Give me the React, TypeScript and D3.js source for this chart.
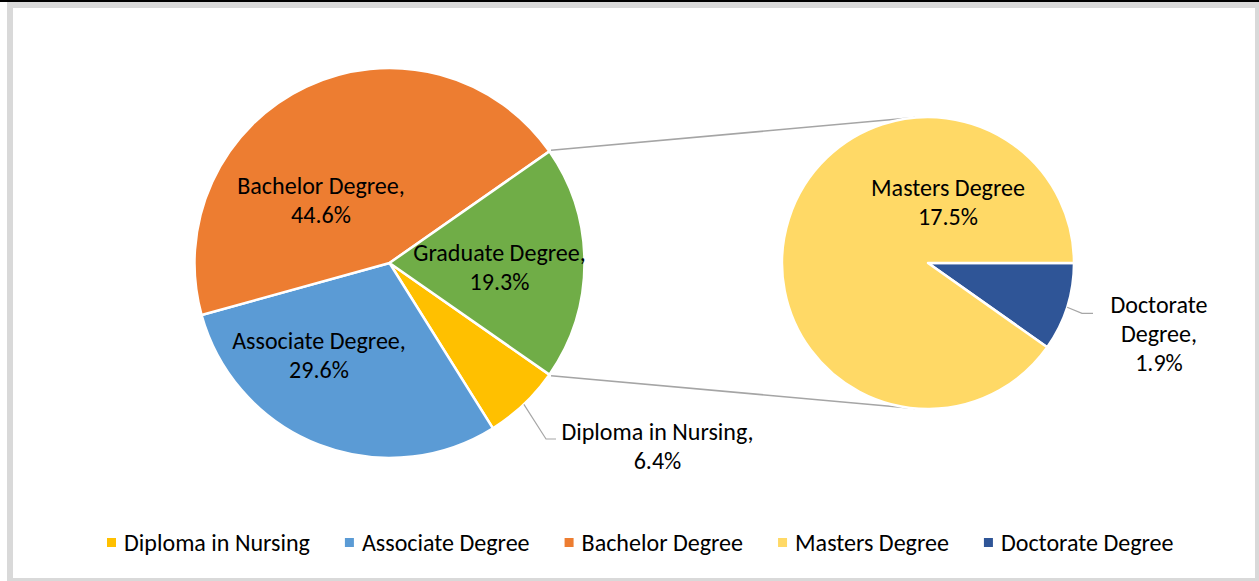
import React, { useEffect, useRef } from "react";
import * as d3 from "d3";

// ---- data ----
const categories = ["Diploma in Nursing", "Associate Degree", "Bachelor Degree", "Masters Degree", "Doctorate Degree"];
const values = [6.4, 29.6, 44.6, 17.5, 1.9];
const colors = ["#FFC000", "#5B9BD5", "#ED7D31", "#FFD966", "#2F5597"];
const secondaryCount = 2; // last N categories go to the secondary pie
const otherName = "Graduate Degree";
const otherShown = 19.3; // percentage shown on the "other" slice
const otherColor = "#70AD47";

// label text lines per slice (primary: Diploma, Associate, Bachelor, Other; secondary: Masters, Doctorate)
const primaryLabelLines = [
  ["Diploma in Nursing,", "6.4%"],
  ["Associate Degree,", "29.6%"],
  ["Bachelor Degree,", "44.6%"],
  [otherName + ",", otherShown.toFixed(1) + "%"],
];
const secondaryLabelLines = [
  ["Doctorate", "Degree,", "1.9%"],
  ["Masters Degree", "17.5%"],
];

// ---- layout ----
const W = 1259, H = 581;
const C1 = { x: 389.5, y: 263, r: 195 };
const C2 = { x: 928, y: 263, r: 146 };
const LINE = 29;
// label anchors: [dx, dy of first baseline] from pie centre
const primaryLabelOffsets = [[268, 177], [-70.5, 86.3], [-68.5, -69], [110, -2.3]];
const secondaryLabelOffsets = [[231, 50.3], [20, -67]];
const legendX0 = 107, legendY = 543;

export default function App() {
  const ref = useRef<SVGSVGElement>(null);
  useEffect(() => {
    const svg = d3.select(ref.current);
    svg.selectAll("*").remove();
    const FONT = "Carlito, Lato, 'Open Sans', sans-serif";

    // measure font scale to match reference text widths
    const probe = svg.append("text").attr("font-family", FONT).attr("font-size", 24).text("Bachelor Degree,");
    const measured = (probe.node() as SVGTextElement).getComputedTextLength();
    probe.remove();
    const FS = 24 * (167.5 / measured);

    // frame
    svg.append("rect").attr("x", 0).attr("y", 0).attr("width", W).attr("height", H).attr("fill", "#fff");
    svg.append("rect").attr("x", 0).attr("y", 0).attr("width", W).attr("height", 2).attr("fill", "#000");
    svg.append("rect").attr("x", 7).attr("y", 2).attr("width", W - 7).attr("height", H - 2).attr("fill", "#D9D9D9");
    svg.append("rect").attr("x", 13).attr("y", 8).attr("width", 1242).attr("height", 570).attr("fill", "#fff");

    const nPrim = values.length - secondaryCount;
    const secVals = values.slice(nPrim);
    const otherVal = d3.sum(secVals);
    const primVals = [...values.slice(0, nPrim), otherVal];
    const primColors = [...colors.slice(0, nPrim), otherColor];
    const total = d3.sum(primVals);
    const start1 = Math.PI / 2 + (otherVal / total) * Math.PI;
    const pie1 = d3.pie<number>().sort(null).value((d) => d).startAngle(start1).endAngle(start1 + 2 * Math.PI);
    const arcs1 = pie1(primVals);
    const arc1 = d3.arc<d3.PieArcDatum<number>>().innerRadius(0).outerRadius(C1.r);

    const secOrder = [secVals.length - 1, ...d3.range(secVals.length - 1)]; // Doctorate first, starting at 3 o'clock
    const secOrdered = secOrder.map((i) => secVals[i]);
    const secColors = secOrder.map((i) => colors[nPrim + i]);
    const pie2 = d3.pie<number>().sort(null).value((d) => d).startAngle(Math.PI / 2).endAngle(Math.PI / 2 + 2 * Math.PI);
    const arcs2 = pie2(secOrdered);
    const arc2 = d3.arc<d3.PieArcDatum<number>>().innerRadius(0).outerRadius(C2.r);

    const polar = (c: { x: number; y: number }, r: number, a: number) => [c.x + r * Math.sin(a), c.y - r * Math.cos(a)];

    // connector lines (tangent to secondary pie)
    const otherArc = arcs1[arcs1.length - 1];
    const tangent = (p: number[], upper: boolean) => {
      const dx = C2.x - p[0], dy = C2.y - p[1];
      const d = Math.hypot(dx, dy);
      const base = Math.atan2(dy, dx);
      const alpha = Math.asin(C2.r / d);
      const dir = base + (upper ? -alpha : alpha);
      const len = Math.sqrt(d * d - C2.r * C2.r);
      return [p[0] + len * Math.cos(dir), p[1] + len * Math.sin(dir)];
    };
    const pTop = polar(C1, C1.r + 2, otherArc.startAngle);
    const pBot = polar(C1, C1.r + 2, otherArc.endAngle);
    [[pTop, tangent(pTop, true)], [pBot, tangent(pBot, false)]].forEach(([a, b]) => {
      svg.append("line").attr("x1", a[0]).attr("y1", a[1]).attr("x2", b[0]).attr("y2", b[1])
        .attr("stroke", "#A5A5A5").attr("stroke-width", 1.5);
    });

    // slices
    const g1 = svg.append("g").attr("transform", `translate(${C1.x},${C1.y})`);
    g1.selectAll("path").data(arcs1).join("path").attr("d", arc1 as any)
      .attr("fill", (_, i) => primColors[i]).attr("stroke", "#fff").attr("stroke-width", 2.5).attr("stroke-linejoin", "round");
    const g2 = svg.append("g").attr("transform", `translate(${C2.x},${C2.y})`);
    g2.selectAll("path").data(arcs2).join("path").attr("d", arc2 as any)
      .attr("fill", (_, i) => secColors[i]).attr("stroke", "#fff").attr("stroke-width", 2.5).attr("stroke-linejoin", "round");

    // labels
    const drawLabel = (x: number, y: number, lines: string[]) => {
      const t = svg.append("text").attr("font-family", FONT).attr("font-size", FS).attr("fill", "#000").attr("text-anchor", "middle");
      lines.forEach((l, i) => t.append("tspan").attr("x", x).attr("y", y + i * LINE).text(l));
      return t;
    };
    primaryLabelLines.forEach((lines, i) => {
      drawLabel(C1.x + primaryLabelOffsets[i][0], C1.y + primaryLabelOffsets[i][1], lines);
    });
    secondaryLabelLines.forEach((lines, i) => {
      drawLabel(C2.x + secondaryLabelOffsets[i][0], C2.y + secondaryLabelOffsets[i][1], lines);
    });

    // leader lines: Diploma (primary 0) and Doctorate (secondary 0)
    const leader = (c: typeof C1, a: d3.PieArcDatum<number>, elbow: number[], end: number[]) => {
      const mid = (a.startAngle + a.endAngle) / 2;
      const s = polar(c, c.r, mid);
      svg.append("polyline").attr("points", [s, elbow, end].map((p) => p.join(",")).join(" "))
        .attr("fill", "none").attr("stroke", "#A6A6A6").attr("stroke-width", 1.2);
    };
    const dipX = C1.x + primaryLabelOffsets[0][0], dipY = C1.y + primaryLabelOffsets[0][1];
    leader(C1, arcs1[0], [dipX - 111.5, dipY - 1], [dipX - 101.5, dipY - 1]);
    const docX = C2.x + secondaryLabelOffsets[0][0], docY = C2.y + secondaryLabelOffsets[0][1];
    leader(C2, arcs2[0], [docX - 77, docY], [docX - 66, docY]);

    // legend
    let x = legendX0;
    categories.forEach((name, i) => {
      svg.append("rect").attr("x", x).attr("y", legendY - 5).attr("width", 9).attr("height", 9).attr("fill", colors[i]);
      const t = svg.append("text").attr("x", x + 17).attr("y", legendY).attr("dy", "0.35em")
        .attr("font-family", FONT).attr("font-size", FS).attr("fill", "#000").text(name);
      const w = (t.node() as SVGTextElement).getComputedTextLength();
      x += 17 + w + 35;
    });
  }, []);
  return <svg ref={ref} width={W} height={H} style={{ position: "absolute", left: 0, top: 0 }} />;
}
